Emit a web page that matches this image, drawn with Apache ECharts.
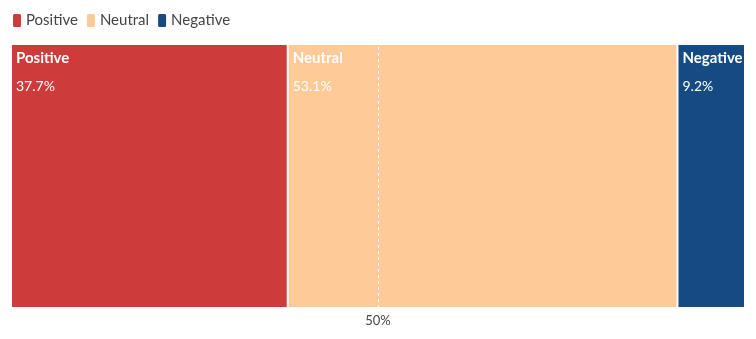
<!DOCTYPE html>
<html>
<head>
<meta charset="utf-8">
<script src="https://cdn.jsdelivr.net/npm/echarts@6/dist/echarts.min.js"></script>
<style>
  html, body { margin: 0; padding: 0; background: #fff; }
  #chart { width: 756px; height: 339px; }
</style>
</head>
<body>
<div id="chart"></div>
<script>
// Sentiment shares (percent of total)
const categories = ['Sentiment'];
const seriesNames = ['Positive', 'Neutral', 'Negative'];
const seriesValues = [37.7, 53.1, 9.2];
const seriesColors = ['#cd3b3a', '#fdca98', '#154a82'];
const tickLabels = { 50: '50%' };

const FONT = 'Lato, "Noto Sans", sans-serif';

const chart = echarts.init(document.getElementById('chart'), null, { renderer: 'canvas' });

const series = seriesNames.map((name, i) => ({
  name: name,
  type: 'bar',
  stack: 'total',
  barWidth: '100%',
  data: [seriesValues[i]],
  itemStyle: { color: seriesColors[i], borderColor: '#ffffff', borderWidth: 1 },
  label: {
    show: true,
    position: 'insideTopLeft',
    distance: 0,
    offset: [5, 0],
    formatter: p => '{n|' + p.seriesName + '}\n{v|' + p.value.toFixed(1) + '%}',
    rich: {
      n: { fontFamily: FONT, fontSize: 15, fontWeight: 'bold', color: '#ffffff', lineHeight: 28 },
      v: { fontFamily: FONT, fontSize: 14, color: '#ffffff', lineHeight: 28 }
    }
  },
  emphasis: { disabled: true }
}));

// dashed reference line at the midpoint
series[series.length - 1].markLine = {
  silent: true,
  symbol: 'none',
  z: 10,
  label: { show: false },
  lineStyle: { color: '#ffffff', type: [3, 3], width: 1 },
  data: [{ xAxis: 50 }]
};

chart.setOption({
  animation: false,
  legend: {
    left: 11,
    top: 12,
    padding: 0,
    itemWidth: 10,
    itemHeight: 15,
    itemGap: 7,
    icon: 'roundRect',
    textStyle: { fontFamily: FONT, fontSize: 15, color: '#444', padding: [0, 0, 0, -1] },
    data: seriesNames
  },
  grid: { left: 11, right: 11, top: 44, bottom: 31, containLabel: false },
  xAxis: {
    type: 'value',
    min: 0,
    max: 100,
    interval: 50,
    axisLine: { show: false },
    axisTick: { show: false },
    splitLine: { show: false },
    axisLabel: {
      fontFamily: FONT,
      fontSize: 13,
      color: '#444',
      margin: 6,
      formatter: v => tickLabels[v] || ''
    }
  },
  yAxis: {
    type: 'category',
    data: categories,
    show: false
  },
  series: series
});
</script>
</body>
</html>
